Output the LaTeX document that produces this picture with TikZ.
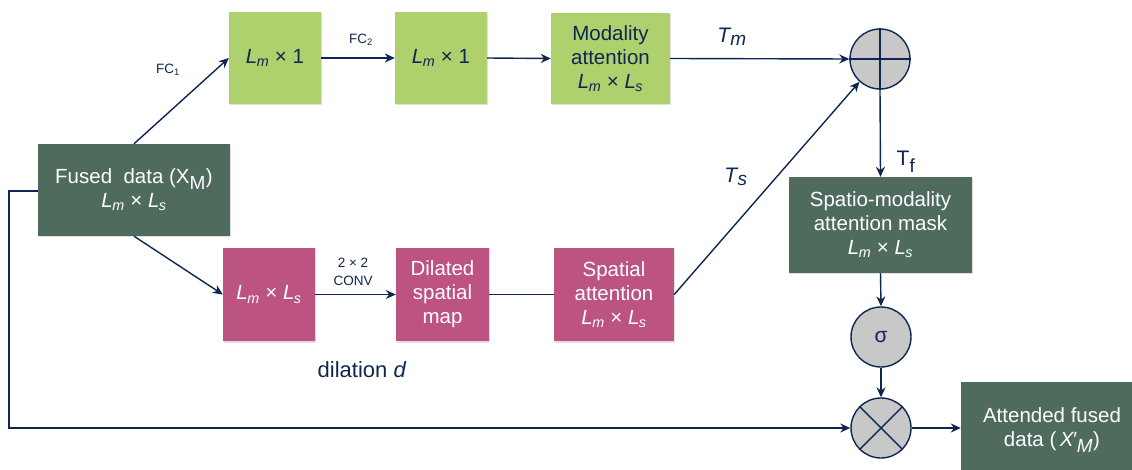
\documentclass[tikz,border=0pt]{standalone}
\usepackage{fontspec}
\setmainfont{Liberation Sans}
\usetikzlibrary{arrows.meta,shadows}
\definecolor{dkgreen}{RGB}{79,107,94}
\definecolor{ltgreen}{RGB}{174,209,110}
\definecolor{pinkbox}{RGB}{188,83,128}
\definecolor{navy}{RGB}{14,38,82}
\definecolor{circgray}{RGB}{200,200,200}
\newcommand\Lm{\textit{L}\kern-0.5pt\textsubscript{\textit{m}}}
\newcommand\Ls{\textit{L}\kern-0.5pt\textsubscript{\textit{s}}}
\tikzset{
  boxbase/.style={rectangle, align=center, inner sep=0pt, font=\fontsize{20.5}{24}\selectfont,
    drop shadow={opacity=0.25, shadow xshift=1pt, shadow yshift=-1.5pt}},
  dkbox/.style={boxbase, fill=dkgreen, text=white},
  gbox/.style={boxbase, fill=ltgreen, text=navy},
  pbox/.style={boxbase, fill=pinkbox, text=white},
  opcirc/.style={circle, draw=navy, line width=1.4pt, fill=circgray, minimum size=60pt, inner sep=0pt, text=navy, font=\fontsize{21}{24}\selectfont},
  arr/.style={draw=navy, line width=1.4pt, -{Stealth[length=10pt,width=9pt]}},
  ln/.style={draw=navy, line width=1.4pt},
  smlab/.style={text=navy, font=\fontsize{13.5}{18}\selectfont, align=center},
  biglab/.style={text=navy, font=\fontsize{21}{24}\selectfont}
}
\begin{document}
\begin{tikzpicture}[x=1pt,y=-1pt]
\useasboundingbox (0,0) rectangle (1132,470);
\fill[white] (0,0) rectangle (1132,470);
% boxes
\node[dkbox, minimum width=192pt, minimum height=92pt] (fused) at (134,190) {Fused\ \ data (X\textsubscript{\fontsize{19}{19}\selectfont M})\\ \Lm\ × \Ls};
\node[gbox, minimum width=92pt, minimum height=92pt] (g1) at (275,58) {\Lm\ × 1};
\node[gbox, minimum width=92pt, minimum height=92pt] (g2) at (441,58) {\Lm\ × 1};
\node[gbox, minimum width=119pt, minimum height=91pt] (mod) at (610.5,58.5) {Modality\\attention\\ \Lm\ × \Ls};
\node[pbox, minimum width=92pt, minimum height=93pt] (p1) at (269,294.5) {\Lm\ × \Ls};
\node[pbox, minimum width=93pt, minimum height=93pt] (dil) at (442.5,294.5) {Dilated\\spatial\\map};
\node[pbox, minimum width=120pt, minimum height=93pt] (sp) at (614,294.5) {Spatial\\attention\\ \Lm\ × \Ls};
\node[dkbox, minimum width=183pt, minimum height=96pt] (mask) at (880.5,225) {Spatio-modality\\attention mask\\ \Lm\ × \Ls};
\node[dkbox, minimum width=182pt, minimum height=96pt] (att) at (1052,430) {Attended fused\\data (\,\textit{X\kern-1pt′}\textsubscript{\fontsize{19}{19}\selectfont\textit{M}})};
% operators
\node[opcirc] (plus) at (880,59) {};
\draw[navy, line width=1.4pt] (plus.north) -- (plus.south) (plus.west) -- (plus.east);
\node[opcirc] (sigma) at (881,337) {σ};
\node[opcirc] (times) at (881,428) {};
\draw[navy, line width=1.4pt] (times.45) -- (times.-135) (times.135) -- (times.-45);
% connectors
\draw[arr] (fused.north) -- (g1.west);
\draw[arr] (g1.east) -- (g2.west);
\draw[arr] (g2.east) -- (mod.west);
\draw[arr] (mod.east) -- (plus.west);
\draw[arr] (sp.east) -- (plus.-132);
\draw[arr] (plus.south) -- (mask.north);
\draw[arr] (mask.south) -- (sigma.north);
\draw[arr] (sigma.south) -- (times.north);
\draw[arr] (times.east) -- (times.east -| att.west);
\draw[arr] (fused.south) -- (p1.west);
\draw[arr] (p1.east) -- (dil.west);
\draw[ln] (dil.east) -- (sp.west);
\coordinate (fbA) at (9,191);
\coordinate (fbB) at (9,428);
\draw[arr] (fused.west |- fbA) -- (fbA) -- (fbB) -- (times.west);
% labels
\node[smlab] (fc1) at (168,70) {FC\textsubscript{1}};
\node[smlab] (fc2) at (361,40) {FC\textsubscript{2}};
\node[smlab] (conv) at (353,272) {2 × 2\\CONV};
\node[biglab] (tm) at (732,37) {\textit{T}\kern-1pt\textsubscript{\fontsize{19}{19}\selectfont\textit{m}}};
\node[biglab] (ts) at (736,177) {\textit{T}\kern-1pt\textsubscript{\fontsize{19}{19}\selectfont\textit{s}}};
\node[biglab] (tf) at (906,162) {T\textsubscript{\fontsize{19}{19}\selectfont f}};
\node[biglab, font=\fontsize{22}{24}\selectfont] (dd) at (362,370) {dilation \textit{d}};
\end{tikzpicture}
\end{document}
